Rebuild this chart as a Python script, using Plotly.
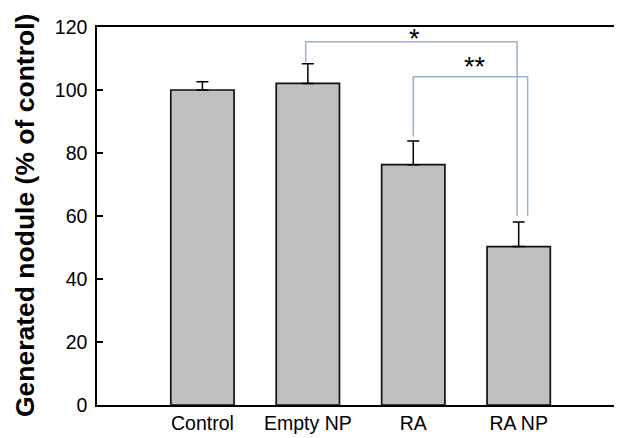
import plotly.graph_objects as go

categories = ["Control", "Empty NP", "RA", "RA NP"]
means = [100.0, 102.1, 76.3, 50.3]
errors = [2.6, 6.2, 7.5, 7.8]
y_ticks = [0, 20, 40, 60, 80, 100, 120]

# significance comparisons: (left index, right index, bracket level, label,
# left leg bottom, right leg bottom, left x nudge, right x nudge, label x, label y)
sig_pairs = [(1, 3, 115.3, "*", 108.8, 60.0, -0.02, -0.015, 2.016, 117.6),
             (2, 3, 104.2, "**", 85.2, 60.0, 0.0, 0.085, 2.583, 108.7)]

xpos = list(range(len(categories)))

fig = go.Figure()
fig.add_trace(go.Bar(
    x=xpos, y=means, width=0.6,
    marker=dict(color="#c0c0c0", line=dict(color="#111111", width=1.7)),
    error_y=dict(type="data", symmetric=False, array=errors,
                 arrayminus=[0] * len(errors), color="black",
                 thickness=1.5, width=6),
    showlegend=False,
))

shapes = []
annotations = []
bcol = "#95b3d7"
for (a, b, lvl, lab, lb, rb, dl, dr, lx, ly) in sig_pairs:
    xa, xb = a + dl, b + dr
    shapes.append(dict(type="path", xref="x", yref="y",
                       path=f"M {xa} {lb} L {xa} {lvl} L {xb} {lvl} L {xb} {rb}",
                       line=dict(color=bcol, width=1.5)))
    annotations.append(dict(x=lx, y=ly, xref="x", yref="y", text=lab, showarrow=False,
                            xanchor="center", yanchor="middle", yshift=-4,
                            font=dict(family="Liberation Sans, Arial", size=27, color="black")))

annotations.append(dict(x=-0.137, y=0.5, xref="paper", yref="paper",
                        text="<b>Generated nodule (% of control)</b>", textangle=-90,
                        showarrow=False, xanchor="center", yanchor="middle",
                        font=dict(family="Liberation Sans, Arial", size=26.5, color="black")))

fig.update_layout(
    width=614, height=430,
    margin=dict(l=89, r=0, t=19, b=33),
    paper_bgcolor="white", plot_bgcolor="white",
    font=dict(family="Liberation Sans, Arial", size=19.5, color="black"),
    shapes=shapes, annotations=annotations,
    bargap=0.4,
)
fig.update_xaxes(range=[-1.0, 3.98], tickvals=xpos, ticktext=categories,
                 showline=True, linecolor="black", linewidth=1.5, mirror=True,
                 ticks="", showgrid=False, zeroline=False, automargin=False)
fig.update_yaxes(range=[0, 120], tickvals=y_ticks, showline=True, linecolor="black",
                 linewidth=1.5, mirror=False, ticks="inside", ticklen=6, tickwidth=1.5,
                 tickcolor="black", showgrid=False, zeroline=False, automargin=False,
                 ticklabelstandoff=4)

fig.write_html("out.html")
